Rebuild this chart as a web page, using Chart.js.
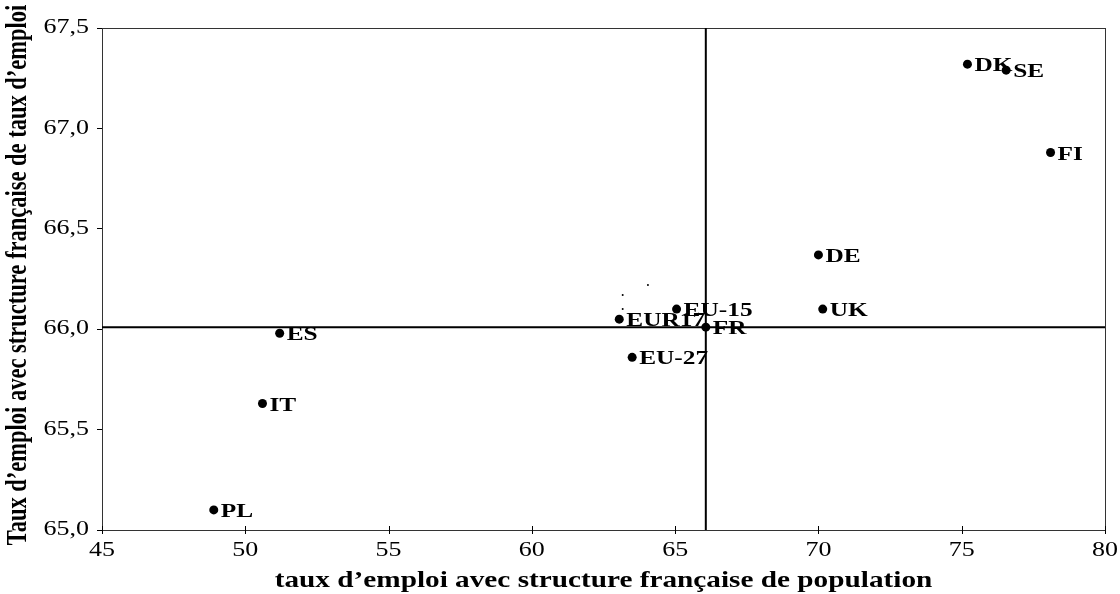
<!DOCTYPE html>
<html lang="fr">
<head>
<meta charset="utf-8">
<title>taux d'emploi</title>
<style>
  html, body { margin: 0; padding: 0; background: #ffffff; }
  canvas { display: block; }
</style>
</head>
<body>
<canvas id="myChart" width="1120" height="594"></canvas>

<script src="https://cdn.jsdelivr.net/npm/chart.js"></script>
<script>
  // data
  const countries = ['DK', 'SE', 'FI', 'DE', 'UK', 'EU-15', 'FR', 'EUR17', 'EU-27', 'ES', 'IT', 'PL'];
  const popRate = [75.2, 76.55, 78.1, 70.0, 70.15, 65.05, 66.07, 63.05, 63.5, 51.2, 50.6, 48.9];
  const empRate = [67.32, 67.29, 66.88, 66.37, 66.10, 66.10, 66.01, 66.05, 65.86, 65.98, 65.63, 65.10];
  // stray specks near EUR17
  const speckX = [63.17, 64.05, 63.17];
  const speckY = [66.17, 66.22, 66.10];
  // cross lines (FR position)
  const refX = [66.07];
  const refY = [66.01];
  const xTicks = [45, 50, 55, 60, 65, 70, 75, 80];
  const yTicks = [65.0, 65.5, 66.0, 66.5, 67.0, 67.5];
  const xTitle = 'taux d’emploi avec structure française de population';
  const yTitle = 'Taux d’emploi avec structure française de taux d’emploi';

  const SERIF = "'Liberation Serif', 'Times New Roman', serif";
  const STRETCH = 1.3; // the original text is drawn wide
  const ctx = document.getElementById('myChart');

  const pts = countries.map((c, i) => ({x: popRate[i], y: empRate[i], label: c}));
  const specks = speckX.map((v, i) => ({x: v, y: speckY[i]}));

  function wideText(c, txt, x, y, align, rot) {
    c.save();
    c.translate(x, y);
    c.scale(STRETCH, 1);
    if (rot) c.rotate(rot);
    c.textAlign = align;
    c.fillText(txt, 0, 0);
    c.restore();
  }

  // frame, cross lines, tick labels, titles and country labels
  const extras = {
    id: 'extras',
    beforeDatasetsDraw(chart) {
      const c = chart.ctx, a = chart.chartArea;
      const xs = chart.scales.x, ys = chart.scales.y;
      c.save();
      c.strokeStyle = '#333333';
      c.lineWidth = 1;
      c.strokeRect(a.left + 0.5, a.top + 0.5, a.right - a.left, a.bottom - a.top);
      c.strokeStyle = '#000000';
      c.lineWidth = 2;
      c.beginPath();
      refX.forEach(v => { const px = xs.getPixelForValue(v); c.moveTo(px, a.top); c.lineTo(px, a.bottom); });
      refY.forEach(v => { const py = ys.getPixelForValue(v); c.moveTo(a.left, py); c.lineTo(a.right, py); });
      c.stroke();
      // x tick marks cross the axis
      c.lineWidth = 1;
      c.beginPath();
      xs.ticks.forEach(t => { const px = Math.round(xs.getPixelForValue(t.value)) + 0.5; c.moveTo(px, a.bottom - 4); c.lineTo(px, a.bottom + 4); });
      c.stroke();
      c.restore();
    },
    afterDatasetsDraw(chart) {
      const c = chart.ctx, a = chart.chartArea;
      const xs = chart.scales.x, ys = chart.scales.y;
      c.save();
      c.fillStyle = '#000000';
      c.textBaseline = 'middle';
      // tick labels
      c.font = '20px ' + SERIF;
      xs.ticks.forEach(t => wideText(c, String(t.value), xs.getPixelForValue(t.value), 551, 'center'));
      ys.ticks.forEach(t => wideText(c, t.value.toFixed(1).replace('.', ','), 89, ys.getPixelForValue(t.value), 'right'));
      // axis titles
      c.font = 'bold 22.5px ' + SERIF;
      wideText(c, xTitle, (a.left + a.right) / 2, 581, 'center');
      wideText(c, yTitle, 18, 275, 'center', -Math.PI / 2);
      // country labels
      c.font = 'bold 19.5px ' + SERIF;
      for (var i = 0; i < countries.length; ++i) {
        wideText(c, countries[i], xs.getPixelForValue(popRate[i]) + 7, ys.getPixelForValue(empRate[i]) + 2, 'left');
      }
      c.restore();
    }
  };

  const our_chart = new Chart(ctx, {
    type: 'scatter',
    data: {
      datasets: [{
        data: pts,
        backgroundColor: '#000000',
        borderColor: '#000000',
        pointRadius: 4.5,
        pointHoverRadius: 4.5,
        borderWidth: 0
      }, {
        data: specks,
        backgroundColor: '#000000',
        borderColor: '#000000',
        pointRadius: 1,
        borderWidth: 0
      }]
    },
    plugins: [extras],
    options: {
      responsive: false,
      animation: false,
      events: [],
      layout: {padding: {left: 0, top: 28, right: 15, bottom: 0}},
      plugins: {legend: {display: false}, tooltip: {enabled: false}},
      scales: {
        x: {
          type: 'linear',
          min: 45, max: 80,
          afterBuildTicks: (axis) => { axis.ticks = xTicks.map(v => ({value: v})); },
          afterFit: (axis) => { axis.height = 64; },
          grid: {drawOnChartArea: false, drawTicks: false, color: '#000000'},
          border: {color: '#000000', width: 1},
          ticks: {display: false},
          title: {display: false}
        },
        y: {
          type: 'linear',
          min: 65, max: 67.5,
          afterBuildTicks: (axis) => { axis.ticks = yTicks.map(v => ({value: v})); },
          afterFit: (axis) => { axis.width = 102; },
          grid: {drawOnChartArea: false, drawTicks: true, tickLength: 5, color: '#000000'},
          border: {color: '#000000', width: 1},
          ticks: {display: false},
          title: {display: false}
        }
      }
    }
  });
</script>
</body>
</html>
